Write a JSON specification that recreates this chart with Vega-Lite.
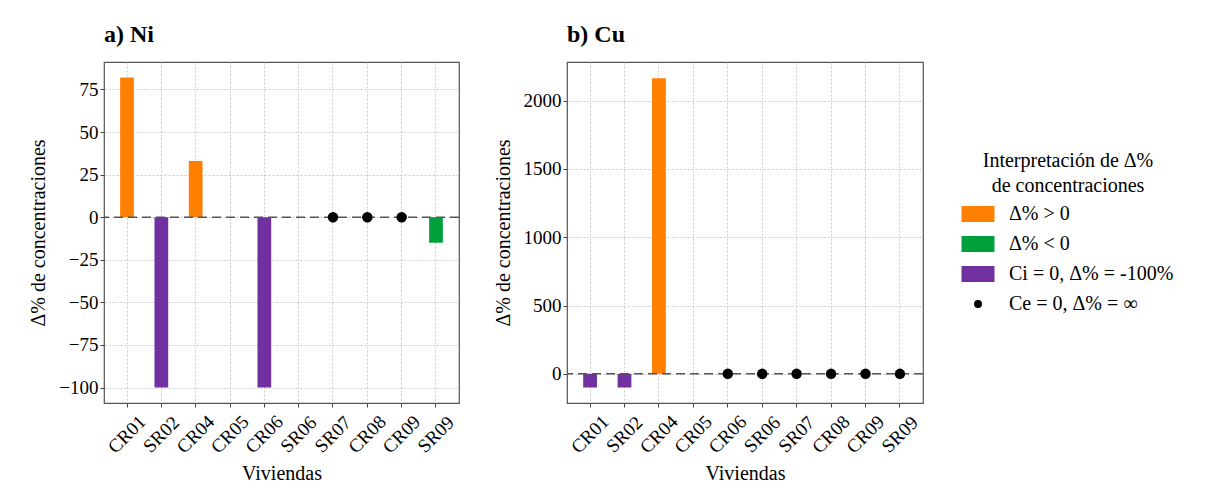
{
  "$schema": "https://vega.github.io/schema/vega-lite/v6.json",
  "padding": {"left": 28, "top": 22, "right": 5, "bottom": 5},
  "spacing": 31,
  "config": {
    "font": "Liberation Serif",
    "view": {"stroke": "#555555", "strokeWidth": 1.2},
    "axis": {
      "domain": false,
      "grid": true,
      "gridColor": "#bdbdbd",
      "gridDash": [2, 2],
      "gridWidth": 0.8,
      "tickColor": "#444444",
      "tickSize": 4,
      "labelFont": "Liberation Serif",
      "labelFontSize": 19,
      "labelColor": "#000000",
      "labelPadding": 2,
      "titleFont": "Liberation Serif",
      "titleFontSize": 20,
      "titleFontWeight": "normal",
      "titleColor": "#000000"
    },
    "axisY": {"titlePadding": 10},
    "title": {"font": "Liberation Serif", "fontSize": 24, "fontWeight": "bold", "anchor": "start", "frame": "group", "offset": 15, "color": "#000000"}
  },
  "datasets": {
    "d": [
      {"panel": "Ni", "viv": "CR01", "val": 82, "cat": "Δ% > 0"},
      {"panel": "Ni", "viv": "SR02", "val": -100, "cat": "Ci = 0, Δ% = -100%"},
      {"panel": "Ni", "viv": "CR04", "val": 33, "cat": "Δ% > 0"},
      {"panel": "Ni", "viv": "CR06", "val": -100, "cat": "Ci = 0, Δ% = -100%"},
      {"panel": "Ni", "viv": "SR07", "val": 0, "cat": "Ce = 0, Δ% = ∞"},
      {"panel": "Ni", "viv": "CR08", "val": 0, "cat": "Ce = 0, Δ% = ∞"},
      {"panel": "Ni", "viv": "CR09", "val": 0, "cat": "Ce = 0, Δ% = ∞"},
      {"panel": "Ni", "viv": "SR09", "val": -15, "cat": "Δ% < 0"},
      {"panel": "Cu", "viv": "CR01", "val": -100, "cat": "Ci = 0, Δ% = -100%"},
      {"panel": "Cu", "viv": "SR02", "val": -100, "cat": "Ci = 0, Δ% = -100%"},
      {"panel": "Cu", "viv": "CR04", "val": 2165, "cat": "Δ% > 0"},
      {"panel": "Cu", "viv": "CR06", "val": 0, "cat": "Ce = 0, Δ% = ∞"},
      {"panel": "Cu", "viv": "SR06", "val": 0, "cat": "Ce = 0, Δ% = ∞"},
      {"panel": "Cu", "viv": "SR07", "val": 0, "cat": "Ce = 0, Δ% = ∞"},
      {"panel": "Cu", "viv": "CR08", "val": 0, "cat": "Ce = 0, Δ% = ∞"},
      {"panel": "Cu", "viv": "CR09", "val": 0, "cat": "Ce = 0, Δ% = ∞"},
      {"panel": "Cu", "viv": "SR09", "val": 0, "cat": "Ce = 0, Δ% = ∞"}
    ]
  },
  "hconcat": [
    {
      "width": 355,
      "height": 341,
      "title": {"text": "a) Ni"},
      "layer": [
        {
          "data": {"name": "d"},
          "transform": [{"filter": "datum.panel === 'Ni' && datum.cat !== 'Ce = 0, Δ% = ∞'"}],
          "mark": {"type": "bar"},
          "encoding": {
            "x": {"field": "viv", "type": "nominal", "sort": null,
              "scale": {"domain": ["CR01","SR02","CR04","CR05","CR06","SR06","SR07","CR08","CR09","SR09"], "paddingInner": 0.6, "paddingOuter": 0.47},
              "axis": {"title": "Viviendas", "labelAngle": -45, "labelAlign": "center", "labelBaseline": "middle", "labelPadding": 27, "titlePadding": 7}},
            "y": {"field": "val", "type": "quantitative",
              "scale": {"domain": [-109.1, 91.1], "nice": false, "zero": false},
              "axis": {"title": "Δ% de concentraciones", "format": "d", "values": [-100, -75, -50, -25, 0, 25, 50, 75]}},
            "color": {"field": "cat", "type": "nominal",
              "scale": {"domain": ["Δ% > 0", "Δ% < 0", "Ci = 0, Δ% = -100%", "Ce = 0, Δ% = ∞"], "range": ["#FF8000", "#00A03C", "#7030A0", "#000000"]},
              "legend": {
                "title": ["Interpretación de Δ%", "de concentraciones"],
                "orient": "none", "legendX": 859, "legendY": 89,
                "titleFont": "Liberation Serif", "titleFontSize": 20, "titleFontWeight": "normal", "titleColor": "#000000",
                "titleAlign": "center", "titleAnchor": "middle", "titleLineHeight": 25, "titleLimit": 400, "titlePadding": 3,
                "labelFont": "Liberation Serif", "labelFontSize": 20, "labelColor": "#000000", "labelLimit": 400, "labelOffset": 16,
                "symbolSize": 900, "rowPadding": 5,
                "encode": {"symbols": {"update": {
                  "shape": {"signal": "datum.value === 'Ce = 0, Δ% = ∞' ? 'circle' : 'M-1.1,-0.53H1.1V0.53H-1.1Z'"},
                  "size": {"signal": "datum.value === 'Ce = 0, Δ% = ∞' ? 64 : 900"},
                  "strokeWidth": {"value": 0},
                  "opacity": {"value": 1}
                }}}
              }}
          }
        },
        {
          "data": {"values": [{}]},
          "mark": {"type": "rule", "color": "#555555", "strokeDash": [9, 5], "strokeWidth": 1.5},
          "encoding": {"y": {"datum": 0}}
        },
        {
          "data": {"name": "d"},
          "transform": [{"filter": "datum.panel === 'Ni' && datum.cat === 'Ce = 0, Δ% = ∞'"}],
          "mark": {"type": "point", "filled": true, "opacity": 1, "size": 110},
          "encoding": {
            "x": {"field": "viv", "type": "nominal", "sort": null},
            "y": {"field": "val", "type": "quantitative"},
            "color": {"field": "cat", "type": "nominal"}
          }
        }
      ]
    },
    {
      "width": 356,
      "height": 341,
      "title": {"text": "b) Cu"},
      "layer": [
        {
          "data": {"name": "d"},
          "transform": [{"filter": "datum.panel === 'Cu' && datum.cat !== 'Ce = 0, Δ% = ∞'"}],
          "mark": {"type": "bar"},
          "encoding": {
            "x": {"field": "viv", "type": "nominal", "sort": null,
              "scale": {"domain": ["CR01","SR02","CR04","CR05","CR06","SR06","SR07","CR08","CR09","SR09"], "paddingInner": 0.6, "paddingOuter": 0.47},
              "axis": {"title": "Viviendas", "labelAngle": -45, "labelAlign": "center", "labelBaseline": "middle", "labelPadding": 27, "titlePadding": 7}},
            "y": {"field": "val", "type": "quantitative",
              "scale": {"domain": [-213.5, 2283.5], "nice": false, "zero": false},
              "axis": {"title": "Δ% de concentraciones", "format": "d", "values": [0, 500, 1000, 1500, 2000]}},
            "color": {"field": "cat", "type": "nominal"}
          }
        },
        {
          "data": {"values": [{}]},
          "mark": {"type": "rule", "color": "#555555", "strokeDash": [9, 5], "strokeWidth": 1.5},
          "encoding": {"y": {"datum": 0}}
        },
        {
          "data": {"name": "d"},
          "transform": [{"filter": "datum.panel === 'Cu' && datum.cat === 'Ce = 0, Δ% = ∞'"}],
          "mark": {"type": "point", "filled": true, "opacity": 1, "size": 110},
          "encoding": {
            "x": {"field": "viv", "type": "nominal", "sort": null},
            "y": {"field": "val", "type": "quantitative"},
            "color": {"field": "cat", "type": "nominal"}
          }
        }
      ]
    }
  ]
}
